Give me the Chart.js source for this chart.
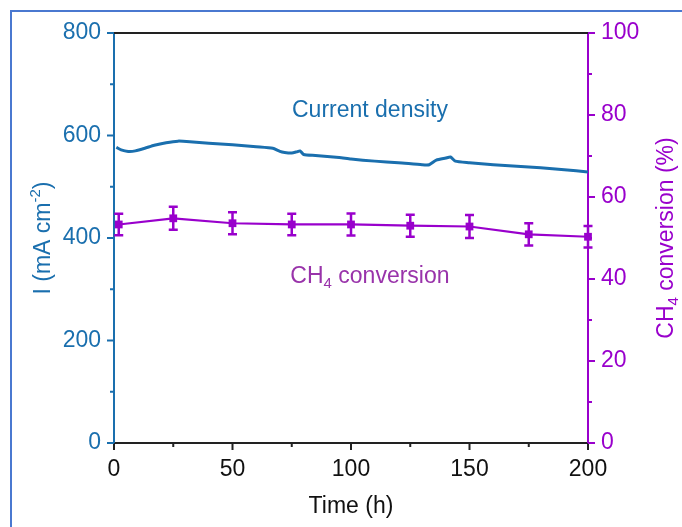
<!DOCTYPE html>
<html>
<head>
<meta charset="utf-8">
<title>Current density and CH4 conversion</title>
<script src="https://cdn.jsdelivr.net/npm/chart.js@4.4.1/dist/chart.umd.min.js"></script>
<style>
  body { margin: 0; background: #fff; }
  #wrap { position: relative; width: 682px; height: 527px; }
</style>
</head>
<body>
<div id="wrap"><canvas id="stability"></canvas></div>
<script>
/* ---- data ---- */
const timeH = [1, 3, 6, 9, 13, 17, 22, 27, 32, 40, 50, 60, 67, 70, 72, 75, 77, 78.5, 80, 85, 95, 100, 110, 120, 130, 133, 136, 140, 142, 144, 150, 160, 170, 180, 190, 200];
const currentDensity = [577, 572, 569, 570, 575, 581, 586, 589, 588, 585, 582, 578, 575, 569, 567, 566, 568, 570, 563, 561, 557, 554, 550, 547, 543, 543, 552, 556, 558, 550, 547, 543, 540, 537, 533, 529];

const convTime = [2, 25, 50, 75, 100, 125, 150, 175, 200];
const convValues = [53.3, 54.8, 53.6, 53.3, 53.3, 53.0, 52.8, 50.9, 50.3];
const convErr = [2.6, 2.8, 2.7, 2.6, 2.7, 2.7, 2.8, 2.7, 2.6];

const xMajor = [0, 50, 100, 150, 200];
const xMinor = [25, 75, 125, 175];
const yMajor = [0, 200, 400, 600, 800];
const yMinor = [100, 300, 500, 700];
const y1Major = [0, 20, 40, 60, 80, 100];
const y1Minor = [10, 30, 50, 70, 90];

const BLUE = '#1a6fae';
const PURPLE = '#9900cc';
const TEXT_PURPLE = '#9933aa';
const FONT = "'Liberation Sans', Arial, sans-serif";

/* ---- mixed text with sub/superscripts ---- */
function richWidth(ctx, parts, size) {
  let w = 0;
  parts.forEach(p => {
    ctx.font = (p.sub || p.sup ? Math.round(size * 0.65) : size) + 'px ' + FONT;
    w += ctx.measureText(p.t).width;
  });
  return w;
}

function drawRich(ctx, parts, x, y, size, color, angle) {
  ctx.save();
  ctx.translate(x, y);
  ctx.rotate(angle || 0);
  ctx.fillStyle = color;
  ctx.textBaseline = 'alphabetic';
  ctx.textAlign = 'left';
  let cx = -richWidth(ctx, parts, size) / 2;
  parts.forEach(p => {
    const small = p.sub || p.sup;
    ctx.font = (small ? Math.round(size * 0.65) : size) + 'px ' + FONT;
    const dy = p.sup ? -size * 0.42 : (p.sub ? size * 0.22 : 0);
    ctx.fillText(p.t, cx, dy);
    cx += ctx.measureText(p.t).width;
  });
  ctx.restore();
}

/* ---- ticks, frame, error bars, labels ---- */
const decorations = {
  id: 'decorations',
  afterDatasetsDraw(chart) {
    const ctx = chart.ctx;
    const xs = chart.scales.x, ys = chart.scales.y1;
    ctx.save();
    ctx.strokeStyle = PURPLE;
    ctx.lineWidth = 2.5;
    convTime.forEach((t, i) => {
      const px = xs.getPixelForValue(t);
      const top = ys.getPixelForValue(convValues[i] + convErr[i]);
      const bot = ys.getPixelForValue(convValues[i] - convErr[i]);
      ctx.beginPath();
      ctx.moveTo(px, top); ctx.lineTo(px, bot);
      ctx.moveTo(px - 4.5, top); ctx.lineTo(px + 4.5, top);
      ctx.moveTo(px - 4.5, bot); ctx.lineTo(px + 4.5, bot);
      ctx.stroke();
    });
    ctx.restore();
  },
  afterDraw(chart) {
    const ctx = chart.ctx;
    const a = chart.chartArea;
    const { x, y, y1 } = chart.scales;

    ctx.save();
    // outer frame
    ctx.strokeStyle = '#4a78d0';
    ctx.lineWidth = 2;
    ctx.beginPath();
    ctx.moveTo(11, 527); ctx.lineTo(11, 11); ctx.lineTo(682, 11);
    ctx.stroke();

    // top axis line
    ctx.strokeStyle = '#222';
    ctx.lineWidth = 2;
    ctx.beginPath();
    ctx.moveTo(a.left, a.top); ctx.lineTo(a.right, a.top);
    ctx.stroke();

    const tick = (scale, vals, len, color, dir) => {
      ctx.strokeStyle = color;
      ctx.lineWidth = 2;
      ctx.beginPath();
      vals.forEach(v => {
        const p = scale.getPixelForValue(v);
        if (dir === 'down') { ctx.moveTo(p, a.bottom); ctx.lineTo(p, a.bottom + len); }
        if (dir === 'left') { ctx.moveTo(a.left, p); ctx.lineTo(a.left - len, p); }
        if (dir === 'right') { ctx.moveTo(a.right, p); ctx.lineTo(a.right + len, p); }
      });
      ctx.stroke();
    };
    tick(x, xMajor, 7, '#222', 'down');
    tick(x, xMinor, 4, '#222', 'down');
    tick(y, yMajor, 7, BLUE, 'left');
    tick(y, yMinor, 4, BLUE, 'left');
    tick(y1, y1Major, 7, PURPLE, 'right');
    tick(y1, y1Minor, 4, PURPLE, 'right');
    ctx.restore();

    const midY = (a.top + a.bottom) / 2;
    drawRich(ctx, [{ t: 'Time (h)' }], (a.left + a.right) / 2, 513, 23, '#111', 0);
    drawRich(ctx, [{ t: 'I (mA cm' }, { t: '-2', sup: true }, { t: ')' }], 50, midY, 23, BLUE, -Math.PI / 2);
    drawRich(ctx, [{ t: 'CH' }, { t: '4', sub: true }, { t: ' conversion (%)' }], 673, midY, 23, PURPLE, -Math.PI / 2);

    // in-plot labels
    drawRich(ctx, [{ t: 'Current density' }], x.getPixelForValue(108), y.getPixelForValue(636), 23, BLUE, 0);
    drawRich(ctx, [{ t: 'CH' }, { t: '4', sub: true }, { t: ' conversion' }], x.getPixelForValue(108), y1.getPixelForValue(39), 23, TEXT_PURPLE, 0);
  }
};

const tickFont = { family: FONT, size: 23 };

new Chart(document.getElementById('stability'), {
  type: 'line',
  data: {
    datasets: [
      {
        label: 'Current density',
        data: timeH.map((t, i) => ({ x: t, y: currentDensity[i] })),
        yAxisID: 'y',
        borderColor: BLUE,
        borderWidth: 3,
        pointRadius: 0,
        tension: 0.2,
      },
      {
        label: 'CH4 conversion',
        data: convTime.map((t, i) => ({ x: t, y: convValues[i] })),
        yAxisID: 'y1',
        borderColor: PURPLE,
        backgroundColor: PURPLE,
        borderWidth: 2.2,
        pointStyle: 'rect',
        pointRadius: 5.5,
        pointBorderWidth: 0,
        clip: false,
      },
    ],
  },
  options: {
    responsive: true,
    maintainAspectRatio: false,
    animation: false,
    layout: { padding: { top: 33, left: 0, right: 0, bottom: 0 } },
    plugins: { legend: { display: false }, tooltip: { enabled: false } },
    scales: {
      x: {
        type: 'linear',
        min: 0, max: 200,
        grid: { display: false, drawTicks: false },
        border: { color: '#222', width: 2 },
        ticks: { stepSize: 50, color: '#111', font: tickFont, padding: 13, maxRotation: 0 },
        afterFit(s) { s.height = 84; },
      },
      y: {
        position: 'left',
        min: 0, max: 800,
        grid: { display: false, drawTicks: false },
        border: { color: BLUE, width: 2 },
        ticks: { stepSize: 200, color: BLUE, font: tickFont, padding: 13 },
        afterFit(s) { s.width = 114; },
      },
      y1: {
        position: 'right',
        min: 0, max: 100,
        grid: { display: false, drawTicks: false },
        border: { color: PURPLE, width: 2 },
        ticks: { stepSize: 20, color: PURPLE, font: tickFont, padding: 13 },
        afterFit(s) { s.width = 94; },
      },
    },
  },
  plugins: [decorations],
});
</script>
</body>
</html>
